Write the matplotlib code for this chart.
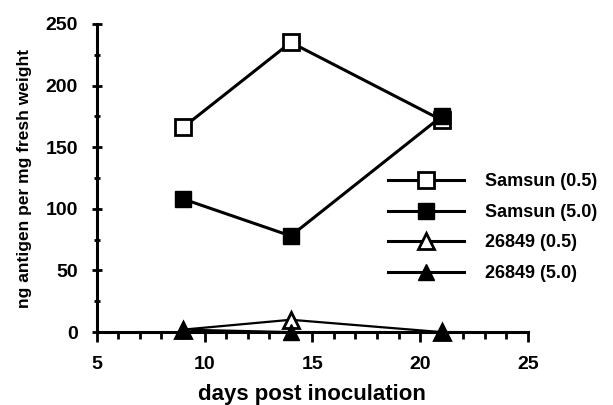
import matplotlib
matplotlib.use("Agg")
import matplotlib.pyplot as plt
from matplotlib.ticker import MultipleLocator

plt.rcParams['font.family'] = ['Liberation Sans', 'DejaVu Sans']
plt.rcParams['font.weight'] = 'bold'

# 数据
days = [9, 14, 21]
samsun_05 = [166, 235, 172]
samsun_50 = [108, 78, 175]
k26849_05 = [2, 10, 0]
k26849_50 = [2, 0, 0]

labels = ["Samsun (0.5)", "Samsun (5.0)", "26849 (0.5)", "26849 (5.0)"]

fig = plt.figure(figsize=(6.13, 4.05), dpi=100)
ax = fig.add_axes([0.158, 0.180, 0.703, 0.761])

ax.plot(days, samsun_05, color='black', lw=2.2, marker='s', ms=12,
        mfc='white', mec='black', mew=2, label=labels[0], zorder=3, clip_on=False)
ax.plot(days, samsun_50, color='black', lw=2.2, marker='s', ms=11,
        mfc='black', mec='black', label=labels[1], zorder=3, clip_on=False)
ax.plot(days, k26849_05, color='black', lw=1.6, marker='^', ms=12,
        mfc='white', mec='black', mew=2, label=labels[2], zorder=3, clip_on=False)
ax.plot(days, k26849_50, color='black', lw=1.6, marker='^', ms=12,
        mfc='black', mec='black', label=labels[3], zorder=4, clip_on=False)

ax.set_xlim(5, 25)
ax.set_ylim(0, 250)
ax.xaxis.set_major_locator(MultipleLocator(5))
ax.xaxis.set_minor_locator(MultipleLocator(1))
ax.yaxis.set_major_locator(MultipleLocator(50))
ax.yaxis.set_minor_locator(MultipleLocator(25))

for side in ['top', 'right']:
    ax.spines[side].set_visible(False)
for side in ['left', 'bottom']:
    ax.spines[side].set_linewidth(2.2)
ax.tick_params(which='major', length=7, width=2, labelsize=14, pad=10)
ax.tick_params(which='minor', length=5, width=2)
ax.tick_params(axis='y', which='both', direction='inout')
ax.tick_params(axis='x', which='both', direction='out')
for lab in ax.get_xticklabels() + ax.get_yticklabels():
    lab.set_fontweight('bold')

ax.set_xlabel("days post inoculation", fontsize=16, fontweight='bold', labelpad=8)
ax.set_ylabel("ng antigen per mg fresh weight", fontsize=12.5, fontweight='bold', labelpad=10)

leg = ax.legend(loc='upper left', bbox_to_anchor=(0.675, 0.515), frameon=False,
                handlelength=4.2, handletextpad=1.2, labelspacing=0.75,
                borderaxespad=0, borderpad=0, prop={'weight': 'bold', 'size': 13})
for line in leg.get_lines():
    line.set_linewidth(2.2)

fig.savefig("out.png", dpi=100)
